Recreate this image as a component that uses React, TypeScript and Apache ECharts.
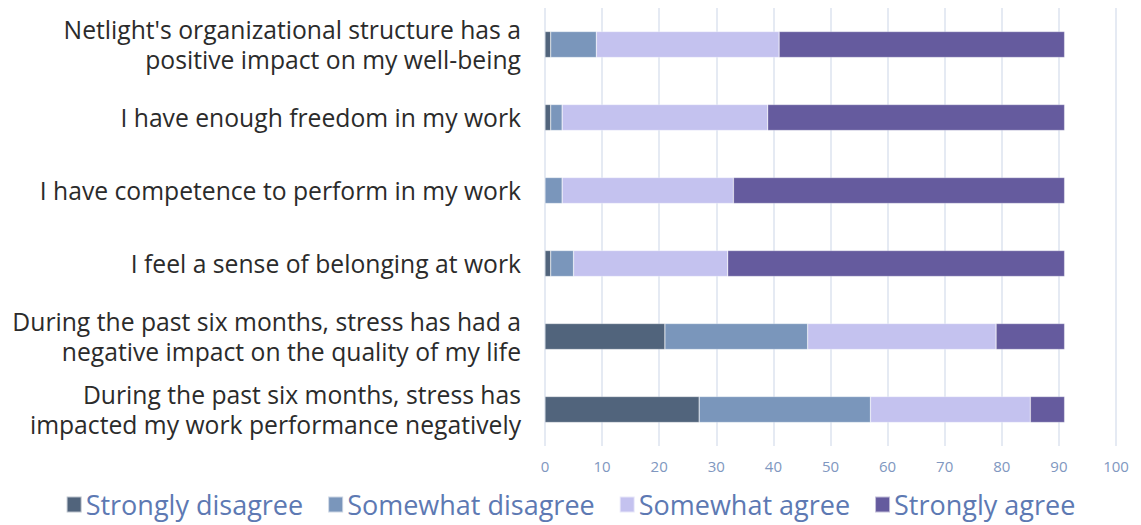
import React, { useEffect, useRef } from "react";
import * as echarts from "echarts";

const categories = [
  "Netlight's organizational structure has a\npositive impact on my well-being",
  "I have enough freedom in my work",
  "I have competence to perform in my work",
  "I feel a sense of belonging at work",
  "During the past six months, stress has had a\nnegative impact on the quality of my life",
  "During the past six months, stress has\nimpacted my work performance negatively",
];
const seriesNames = ["Strongly disagree", "Somewhat disagree", "Somewhat agree", "Strongly agree"];
const stronglyDisagree = [1, 1, 0, 1, 21, 27];
const somewhatDisagree = [8, 2, 3, 4, 25, 30];
const somewhatAgree = [32, 36, 30, 27, 33, 28];
const stronglyAgree = [50, 52, 58, 59, 12, 6];
const colors = ["#51647c", "#7a96bb", "#c4c2ef", "#655b9e"];

export default function App() {
  const ref = useRef<HTMLDivElement>(null);
  useEffect(() => {
    const chart = echarts.init(ref.current!, null, { renderer: "svg" });
    const data = [stronglyDisagree, somewhatDisagree, somewhatAgree, stronglyAgree];
    chart.setOption({
      animation: false,
      textStyle: { fontFamily: "Open Sans" },
      grid: { left: 537, right: 17, top: 0, height: 438, outerBoundsMode: "none", containLabel: false },
      legend: {
        top: 478,
        left: "center",
        itemWidth: 15,
        itemHeight: 16,
        itemGap: 24,
        icon: "rect",
        textStyle: { fontSize: 27, color: "#5d79b3", fontFamily: "Open Sans", padding: [0, 0, 0, -1] },
        data: seriesNames,
      },
      xAxis: {
        type: "value",
        min: 0,
        max: 100,
        interval: 10,
        axisLine: { show: false },
        axisTick: { show: false },
        splitLine: { lineStyle: { color: "#dde3ef", width: 1.5 } },
        axisLabel: { color: "#8097c0", fontSize: 15, margin: 12 },
      },
      yAxis: {
        type: "category",
        inverse: true,
        data: categories,
        axisLine: { show: false },
        axisTick: { show: false },
        axisLabel: { color: "#2b2b2b", fontSize: 24.7, margin: 24, lineHeight: 30, align: "right" },
      },
      series: data.map((d, i) => ({
        name: seriesNames[i],
        type: "bar",
        stack: "total",
        data: d,
        barWidth: 26,
        itemStyle: { color: colors[i], borderColor: "rgba(255,255,255,0.6)", borderWidth: 0.5 },
      })),
    });
    return () => chart.dispose();
  }, []);
  return <div ref={ref} style={{ width: 1125, height: 517 }} />;
}
